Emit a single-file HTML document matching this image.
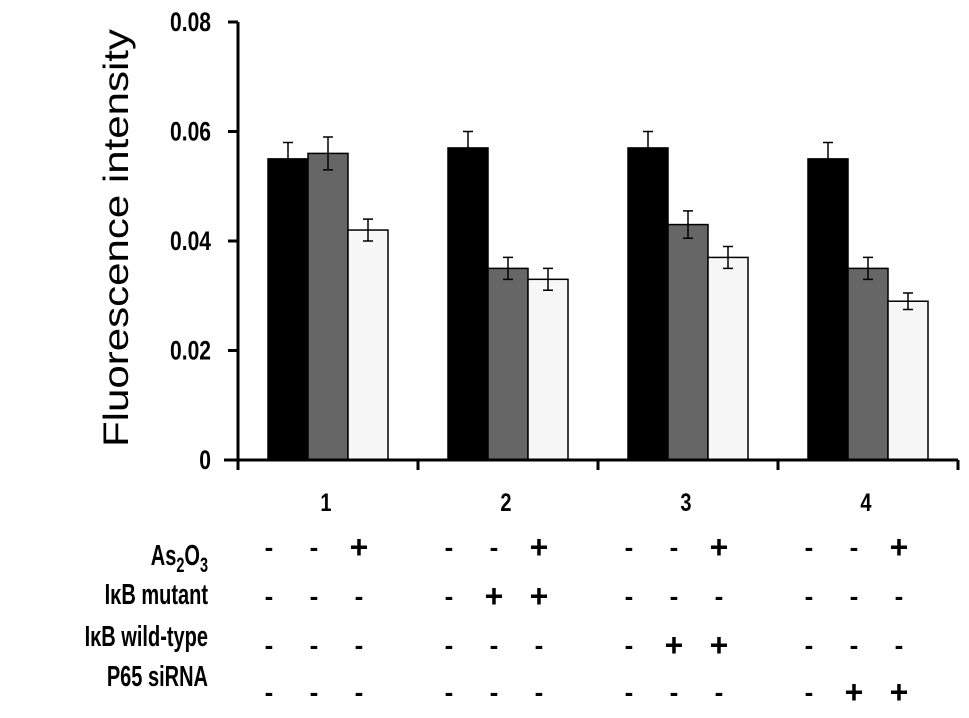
<!DOCTYPE html>
<html><head><meta charset="utf-8"><style>
body{margin:0;background:#fff;}
svg text{font-family:"Liberation Sans",Arial,sans-serif;}
</style></head><body>
<svg id="chart" width="969" height="713" xmlns="http://www.w3.org/2000/svg">
<g id="plot"></g>
</svg>
<script>
const categories = ["1","2","3","4"];
const seriesBlack = [0.055,0.057,0.057,0.055];
const seriesGray = [0.056,0.035,0.043,0.035];
const seriesWhite = [0.042,0.033,0.037,0.029];
const errBlack = [0.003,0.003,0.003,0.003];
const errGray = [0.003,0.002,0.0025,0.002];
const errWhite = [0.002,0.002,0.002,0.0015];
const yTicks = [0,0.02,0.04,0.06,0.08];
const yTickLabels = ["0","0.02","0.04","0.06","0.08"];
const rowLabels = ["As2O3","IκB mutant","IκB wild-type","P65 siRNA"];
const signs = [
 ["-","-","+","-","-","+","-","-","+","-","-","+"],
 ["-","-","-","-","+","+","-","-","-","-","-","-"],
 ["-","-","-","-","-","-","-","+","+","-","-","-"],
 ["-","-","-","-","-","-","-","-","-","-","+","+"]
];
const NS="http://www.w3.org/2000/svg";
const g=document.getElementById('plot');
const x0=238,x1=958,y0=460,y1=22,yMax=0.08;
const y=v=>y0-(v/yMax)*(y0-y1);
const groupW=(x1-x0)/categories.length;
const barW=40;
function mk(t,a){const e=document.createElementNS(NS,t);for(const k in a)e.setAttribute(k,a[k]);g.appendChild(e);return e;}
const series=[[seriesBlack,errBlack,"#000","bar-black"],[seriesGray,errGray,"#666","bar-gray"],[seriesWhite,errWhite,"#f7f7f7","bar-white"]];
categories.forEach((c,i)=>{
 const start=x0+i*groupW+30;
 series.forEach((s,j)=>{
  const v=s[0][i],e=s[1][i];
  const bx=start+j*barW;
  const r=mk('rect',{x:bx,y:y(v),width:barW,height:y0-y(v),fill:s[2],stroke:"#000","stroke-width":1.5});
  
  
  const cx=bx+barW/2;
  const el=mk('path',{d:`M${cx},${y(v+e)}V${y(v-e)}M${cx-5},${y(v+e)}H${cx+5}M${cx-5},${y(v-e)}H${cx+5}`,stroke:"#000","stroke-width":1.5,fill:"none"});
  
  
 });
 const t=mk('text',{x:0,y:0,"font-size":25,"font-weight":"bold","text-anchor":"middle",transform:`translate(${x0+i*groupW+groupW/2-2},511) scale(0.8,1)`});
 t.textContent=c;
 
 
});
const ax=mk('path',{d:`M${x0},${y1}V${y0}M${x0-14},${y0}H${x1}`,stroke:"#000","stroke-width":3,fill:"none"});


for(let i=0;i<=categories.length;i++){const xx=x0+i*groupW;const tk=mk('line',{x1:xx,x2:xx,y1:y0,y2:y0+10,stroke:"#000","stroke-width":3});}
yTicks.forEach((v,i)=>{
 const tk=mk('line',{x1:x0-10,x2:x0,y1:y(v),y2:y(v),stroke:"#000","stroke-width":3});
 
 
 const t=mk('text',{x:0,y:0,"font-size":27,"font-weight":"bold","text-anchor":"end",transform:`translate(211,${y(v)+9}) scale(0.78,1)`});
 t.textContent=yTickLabels[i];
 
 
});
const yt=mk('text',{x:0,y:0,"font-size":35,"text-anchor":"middle",textLength:418,lengthAdjust:"spacingAndGlyphs",transform:"translate(128,238) rotate(-90)"});
yt.textContent="Fluorescence intensity";


const rowY=[548,597,646,693];
const labY=[565,604,646,686];
rowLabels.forEach((l,r)=>{
 const t=mk('text',{x:0,y:0,"font-size":29,"font-weight":"bold","text-anchor":"end",transform:`translate(208,${labY[r]}) scale(0.69,1)`});
 if(r===0){t.innerHTML='As<tspan font-size="21" dy="7">2</tspan><tspan dy="-7">O</tspan><tspan font-size="21" dy="7">3</tspan>';}
 else t.textContent=l;
 
 
 signs[r].forEach((s,k)=>{
  const gi=Math.floor(k/3),j=k%3;
  const cx=x0+gi*groupW+31+j*45;
  const st=mk('text',{x:cx,y:rowY[r]+(s=="+"?10:8),"font-size":s=="+"?32:26,"font-weight":"bold","text-anchor":"middle"});
  st.textContent=s;
  
  
 });
});
</script>
</body></html>
